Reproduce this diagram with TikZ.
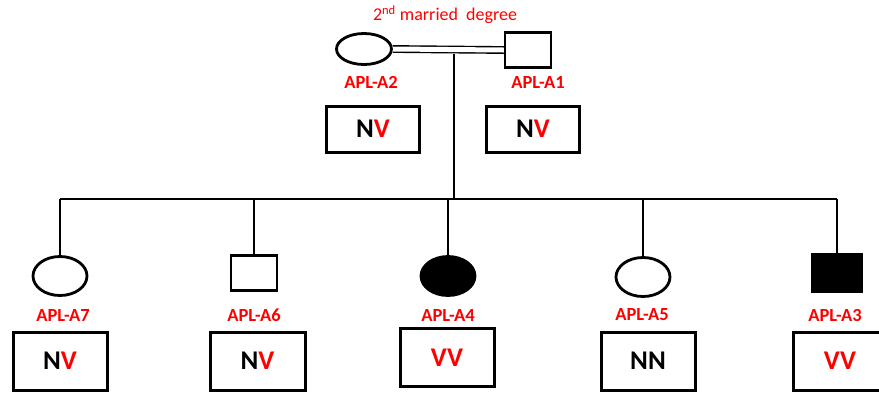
\documentclass[tikz,border=0pt]{standalone}
\usepackage{fontspec}
\setmainfont{Carlito}
\usetikzlibrary{shapes.geometric}
\definecolor{lblred}{RGB}{255,0,0}
\begin{document}
\begin{tikzpicture}[x=1pt,y=-1pt,
  fem/.style={ellipse,draw,line width=2.8pt,inner sep=0pt,minimum width=54pt,minimum height=39pt},
  mal/.style={rectangle,draw,line width=2.4pt,inner sep=0pt,minimum width=46pt,minimum height=35pt},
  genobox/.style={rectangle,draw,line width=3pt,inner sep=0pt,minimum width=93pt,minimum height=46pt,font=\fontsize{27}{27}\selectfont\bfseries},
  lbl/.style={text=lblred,font=\fontsize{18.5}{18.5}\selectfont\bfseries,inner sep=0pt},
  conn/.style={line width=1.5pt}]
\useasboundingbox (0,0) rectangle (879,392);
\clip (0,0) rectangle (879,392);
% parents
\node[fem,minimum width=55pt,minimum height=31pt] (A2) at (364,49) {};
\node[mal] (A1) at (528,50) {};
\node[text=lblred,font=\fontsize{18}{18}\selectfont,inner sep=0pt] (title) at (445,15) {2\textsuperscript{nd} married\ \ degree};
\node[lbl] (lA2) at (371,82) {APL-A2};
\node[lbl] (lA1) at (538,82) {APL-A1};
\node[genobox] (bA2) at (373,129) {N\textcolor{lblred}{V}};
\node[genobox] (bA1) at (533,129) {N\textcolor{lblred}{V}};
\draw[double,double distance=5pt,line width=1.4pt] (A2.east) -- (A1.west);
\coordinate (m) at (454,53.5);
\coordinate (sib) at (454,199);
\draw[conn] (m) -- (sib);
% children
\node[fem] (A7) at (60,276) {};
\node[mal] (A6) at (254,273) {};
\node[fem,fill=black] (A4) at (448,276) {};
\node[fem] (A5) at (643,277) {};
\node[mal,fill=black,minimum width=49pt,minimum height=37pt] (A3) at (837,273) {};
\draw[conn] (A7 |- sib) -- (A3 |- sib);
\foreach \c in {A7,A6,A4,A5,A3} \draw[conn] (\c |- sib) -- (\c.north);
\node[lbl] (lA7) at (63,315) {APL-A7};
\node[lbl] (lA6) at (254,315) {APL-A6};
\node[lbl] (lA4) at (448,315) {APL-A4};
\node[lbl] (lA5) at (642,315) {APL-A5};
\node[lbl] (lA3) at (835,315) {APL-A3};
\node[genobox,minimum width=94pt,minimum height=58pt] (bA7) at (60,361) {N\textcolor{lblred}{V}};
\node[genobox,minimum width=95pt,minimum height=58pt] (bA6) at (257.5,361) {N\textcolor{lblred}{V}};
\node[genobox,minimum width=94pt,minimum height=58pt] (bA4) at (447,357.5) {\textcolor{lblred}{VV}};
\node[genobox,minimum width=94pt,minimum height=58pt] (bA5) at (648,361) {NN};
\node[genobox,minimum width=94pt,minimum height=58pt] (bA3) at (840,361) {\textcolor{lblred}{VV}};
\end{tikzpicture}
\end{document}
